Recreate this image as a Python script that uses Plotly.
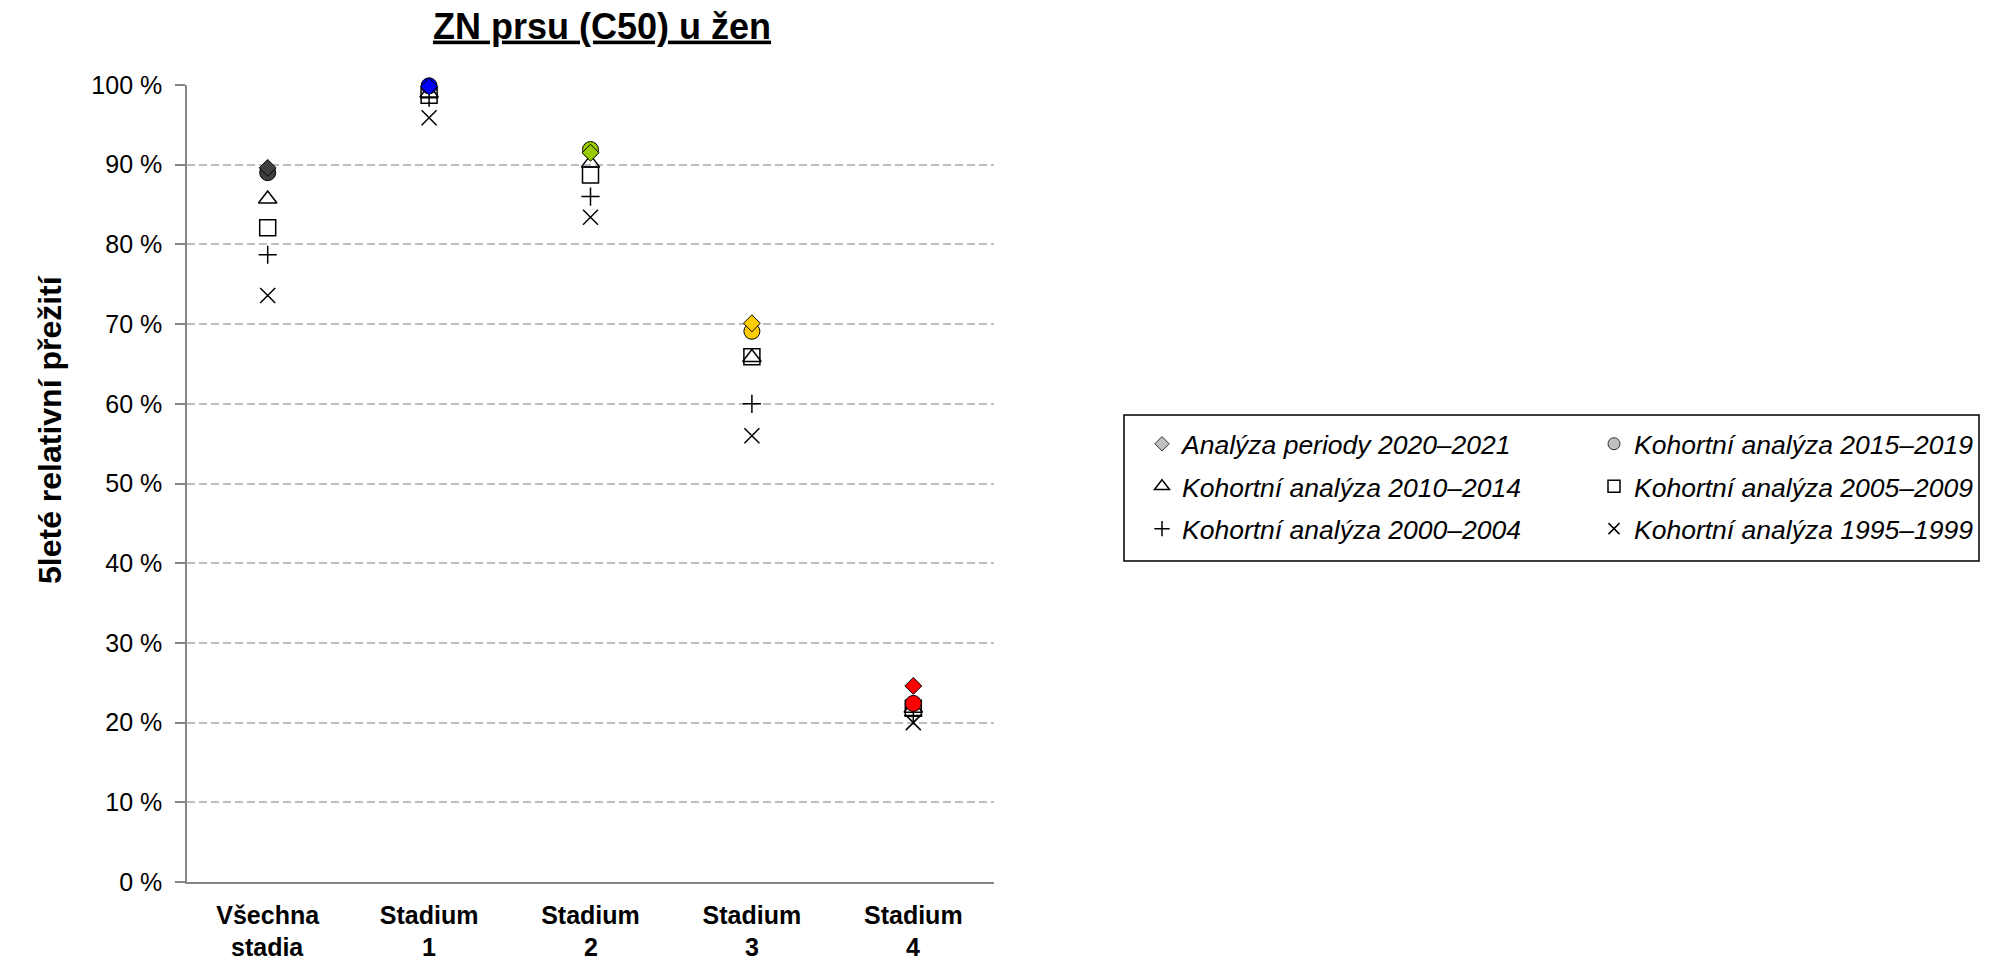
import plotly.graph_objects as go

# Categories on the x axis (two-line labels)
categories = ["Všechna<br>stadia", "Stadium<br>1", "Stadium<br>2", "Stadium<br>3", "Stadium<br>4"]
category_colors = ["#404040", "#0000FF", "#99CC00", "#FFCC00", "#FF0000"]

# 5-year relative survival (%) per analysis
period_2020_2021 = [89.6, 99.8, 91.5, 70.1, 24.6]
cohort_2015_2019 = [89.0, 99.9, 91.9, 69.1, 22.4]
cohort_2010_2014 = [85.7, 99.0, 90.2, 65.8, 21.8]
cohort_2005_2009 = [82.1, 98.7, 88.7, 65.9, 21.8]
cohort_2000_2004 = [78.7, 98.4, 86.0, 60.0, 20.9]
cohort_1995_1999 = [73.6, 95.9, 83.4, 56.0, 20.0]

y_ticks = list(range(0, 101, 10))
y_tick_labels = [f"{v} %" for v in y_ticks]

FONT = "Liberation Sans, Arial, sans-serif"
W, H = 2014, 964
PLOT_L, PLOT_R, PLOT_T, PLOT_B = 187, 994, 85, 882


def px_x(x):
    return (x - PLOT_L) / (PLOT_R - PLOT_L)


def px_y(y):
    return (PLOT_B - y) / (PLOT_B - PLOT_T)


# (name, values, symbol, plot size, legend size, filled, legend column)
series = [
    ("Analýza periody 2020–2021", period_2020_2021, "diamond", 13, 11, True, "legend"),
    ("Kohortní analýza 2015–2019", cohort_2015_2019, "circle", 16, 12, True, "legend2"),
    ("Kohortní analýza 2010–2014", cohort_2010_2014, "triangle-up", 16, 13, False, "legend"),
    ("Kohortní analýza 2005–2009", cohort_2005_2009, "square", 16, 12, False, "legend2"),
    ("Kohortní analýza 2000–2004", cohort_2000_2004, "cross-thin", 13, 11, False, "legend"),
    ("Kohortní analýza 1995–1999", cohort_1995_1999, "x-thin", 15, 11, False, "legend2"),
]

fig = go.Figure()

# data markers, oldest cohort drawn first so the newest sits on top
for name, values, symbol, size, _, filled, _ in reversed(series):
    if filled:
        marker = dict(symbol=symbol, size=size, color=category_colors,
                      line=dict(color="black", width=1))
    else:
        marker = dict(symbol=symbol + "-open", size=size, color="black",
                      line=dict(color="black", width=1.5))
    fig.add_trace(go.Scatter(
        x=categories, y=values, mode="markers", name=name,
        marker=marker, showlegend=False, legendgroup=name, cliponaxis=False,
        hovertemplate="%{y:.1f} %<extra>" + name + "</extra>",
    ))

# legend entries with neutral grey swatches, split into two columns
for name, _, symbol, _, lsize, filled, legend_id in series:
    if filled:
        marker = dict(symbol=symbol, size=lsize, color="#C0C0C0",
                      line=dict(color="#303030", width=1))
    else:
        marker = dict(symbol=symbol + "-open", size=lsize, color="black",
                      line=dict(color="black", width=1.5))
    fig.add_trace(go.Scatter(
        x=[None], y=[None], mode="markers", name=name, marker=marker,
        legendgroup=name, showlegend=True, legend=legend_id,
    ))

legend_common = dict(
    orientation="v", xref="paper", yref="paper", xanchor="left", yanchor="top",
    borderwidth=0, bgcolor="rgba(0,0,0,0)", tracegroupgap=5,
    font=dict(family=FONT, size=26.5, style="italic", color="black"),
    traceorder="grouped",
)

# category labels: first line as tick text, second line set tighter below it
first_lines = [c.split("<br>")[0] for c in categories]
second_lines = [c.split("<br>")[1] for c in categories]
label_font = dict(family=FONT, size=25, weight="bold", color="black")

annotations = [dict(
    text="5leté relativní přežití",
    xref="paper", yref="paper",
    x=px_x(50), y=px_y(430),
    xanchor="center", yanchor="middle", textangle=-90, showarrow=False,
    font=dict(family=FONT, size=32, weight="bold", color="black"),
)]
for cat, line2 in zip(categories, second_lines):
    annotations.append(dict(
        text=line2, x=cat, xref="x", y=px_y(947), yref="paper",
        xanchor="center", yanchor="middle", showarrow=False, font=label_font,
        borderpad=0,
    ))

fig.update_layout(
    width=W, height=H,
    paper_bgcolor="white", plot_bgcolor="white",
    margin=dict(l=PLOT_L, r=W - PLOT_R, t=PLOT_T, b=H - PLOT_B, autoexpand=False),
    font=dict(family=FONT, color="black"),
    title=dict(
        text="ZN prsu (C50) u žen",
        font=dict(family=FONT, size=36, weight="bold", lineposition="under", color="black"),
        x=px_x(602), xref="paper", xanchor="center",
        y=1 - 26 / H, yref="container", yanchor="middle",
    ),
    xaxis=dict(
        type="category", range=[-0.5, 4.5], automargin=False,
        tickmode="array", tickvals=categories, ticktext=first_lines,
        showline=True, linecolor="#868686", linewidth=1.5,
        ticks="", showgrid=False, zeroline=False,
        tickfont=label_font,
        ticklabelstandoff=10,
    ),
    yaxis=dict(
        range=[0, 100], tickmode="array", tickvals=y_ticks, ticktext=y_tick_labels,
        automargin=False,
        showline=True, linecolor="#868686", linewidth=1.5,
        ticks="outside", ticklen=10, tickcolor="#868686", tickwidth=1.5,
        showgrid=True, gridcolor="#BEBEBE", gridwidth=2, griddash="8px,4px",
        zeroline=False,
        tickfont=dict(family=FONT, size=25, color="black"),
        ticklabelstandoff=8,
    ),
    legend=dict(x=px_x(1142), y=px_y(420), **legend_common),
    legend2=dict(x=px_x(1594), y=px_y(420), **legend_common),
    shapes=[dict(
        type="rect", xref="paper", yref="paper",
        x0=px_x(1124), x1=px_x(1979), y0=px_y(415), y1=px_y(561),
        line=dict(color="black", width=1.5), fillcolor="rgba(0,0,0,0)", layer="above",
    )],
    annotations=annotations,
)

fig.write_html("out.html")
